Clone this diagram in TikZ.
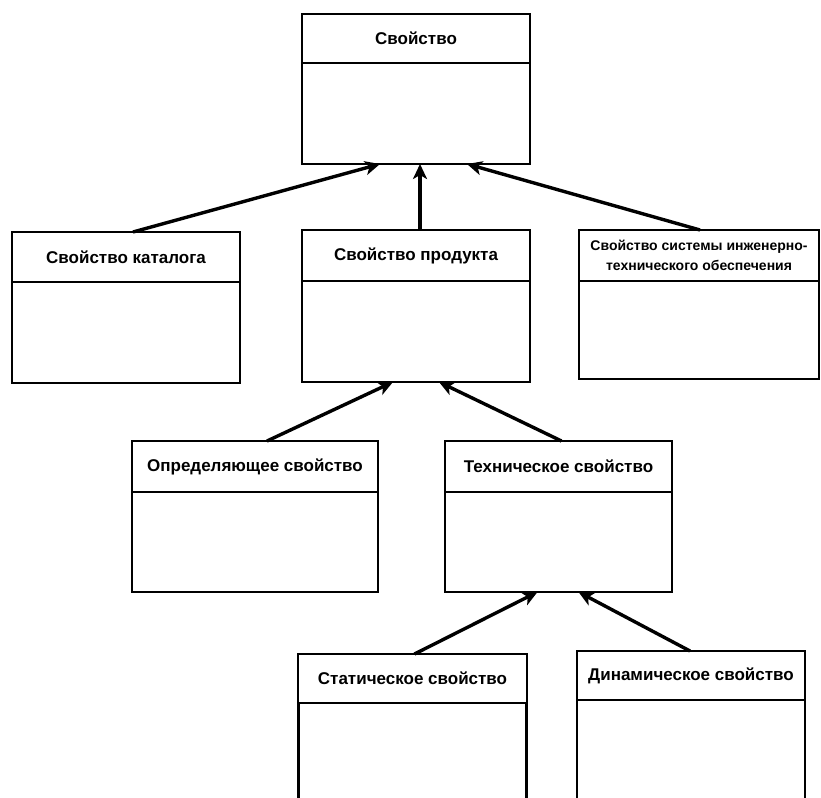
\documentclass[tikz,border=0pt]{standalone}
\usepackage{fontspec}
\setmainfont{Liberation Sans}
\usepackage{tikz}
\usetikzlibrary{shapes,arrows,arrows.meta,positioning}

\begin{document}
\begin{tikzpicture}[x=1pt, y=-1pt, font=\fontsize{17}{20}\selectfont\bfseries]
\tikzstyle{head} = [rectangle, draw, line width=2.6pt, outer sep=0pt, minimum width=228pt, minimum height=50pt, align=center, anchor=north west]
\tikzstyle{body} = [rectangle, draw, line width=2.6pt, outer sep=0pt, minimum width=228pt, minimum height=101pt, below=0pt of #1]
\tikzstyle{line} = [draw, line width=3.4pt, -{Stealth[length=15pt,width=14pt,inset=4pt]}]

\useasboundingbox (0,0) rectangle (821,797);

\node [head, minimum height=49pt] (root) at (302,14) {Свойство};
\node [body=root] (rootbody) {};

\node [head] (cat) at (12,232) {Свойство каталога};
\node [body=cat] (catbody) {};
\node [head, minimum height=51pt] (prod) at (302,230) {Свойство продукта};
\node [body=prod] (prodbody) {};
\node [head, minimum width=240pt, minimum height=51pt, font=\fontsize{14}{20}\selectfont\bfseries] (sys) at (579,230) {Свойство системы инженерно-\\технического обеспечения};
\node [body=sys, minimum width=240pt, minimum height=98pt] (sysbody) {};

\node [head, minimum width=246pt, minimum height=51pt] (def) at (132,441) {Определяющее свойство};
\node [body=def, minimum width=246pt, minimum height=100pt] (defbody) {};
\node [head, minimum width=227pt, minimum height=51pt] (tech) at (445,441) {Техническое свойство};
\node [body=tech, minimum width=227pt, minimum height=100pt] (techbody) {};

\node [head, minimum width=229pt, minimum height=49pt] (stat) at (298,654) {Статическое свойство};
\node [body=stat, minimum height=160pt] (statbody) {};
\node [head, minimum height=49pt] (dyn) at (577,651) {Динамическое свойство};
\node [body=dyn, minimum height=160pt] (dynbody) {};

\path [line] ([xshift=7pt]cat.north) -- ([xshift=-36pt]rootbody.south);
\path [line] ([xshift=4pt]prod.north) -- ([xshift=4pt]rootbody.south);
\path [line] ([xshift=1pt]sys.north) -- ([xshift=51pt]rootbody.south);
\path [line] ([xshift=12pt]def.north) -- ([xshift=-23pt]prodbody.south);
\path [line] ([xshift=3pt]tech.north) -- ([xshift=23pt]prodbody.south);
\path [line] ([xshift=2pt]stat.north) -- ([xshift=-21pt]techbody.south);
\path [line] ([xshift=-1pt]dyn.north) -- ([xshift=20pt]techbody.south);
\end{tikzpicture}
\end{document}
